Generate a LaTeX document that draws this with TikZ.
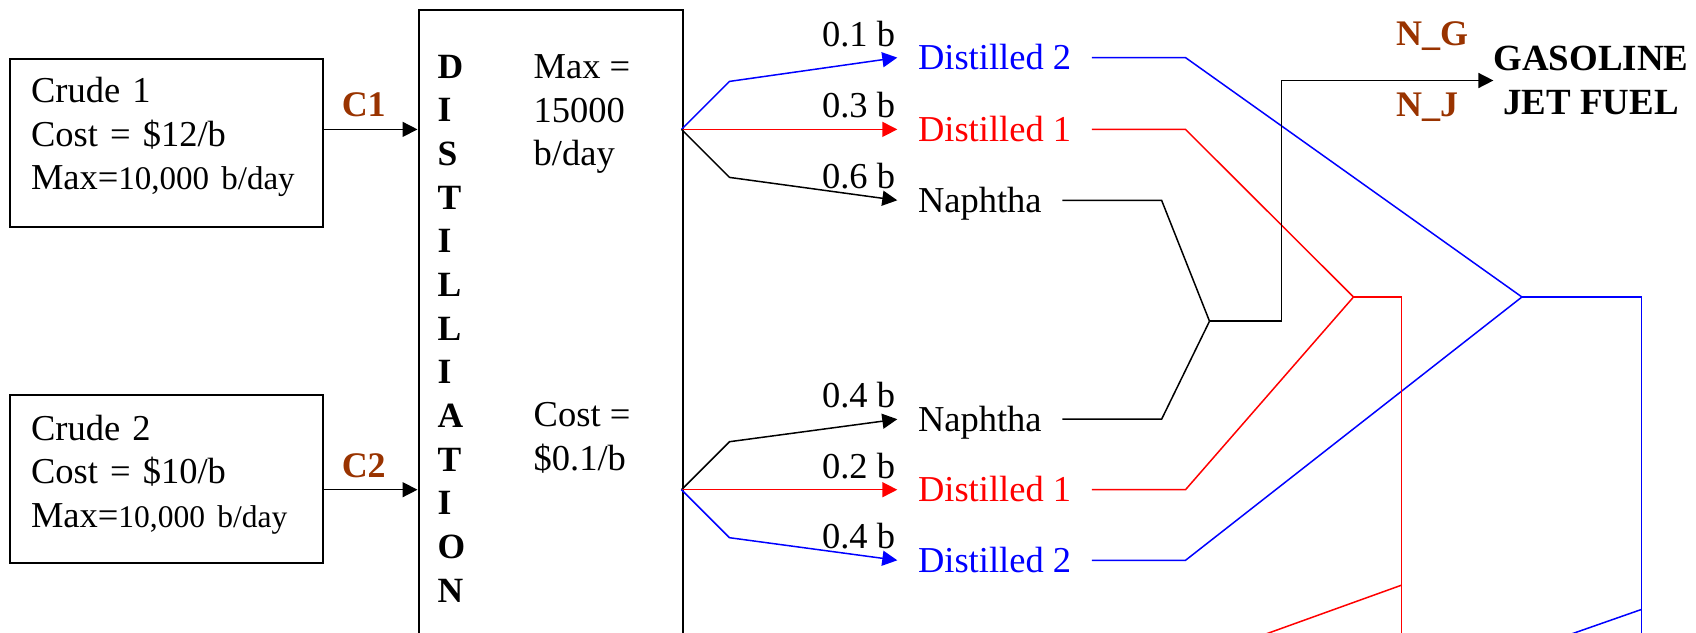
\documentclass[tikz,border=0pt]{standalone}
\usepackage{fontspec}
\setmainfont{Liberation Serif}
\usetikzlibrary{positioning, arrows.meta, calc}
\definecolor{rust}{RGB}{153,51,0}

\begin{document}
\begin{tikzpicture}[
    x=1pt, y=-1pt,
    box/.style={draw, line width=2pt, inner sep=0pt},
    crude/.style={box, anchor=north west, minimum width=313pt, minimum height=168pt, inner xsep=21pt, text width=271pt, align=left, font=\fontsize{36.5}{43.5}\selectfont},
    tower/.style={anchor=west, inner sep=0pt, font=\fontsize{35.5}{40}\selectfont\bfseries},
    note/.style={anchor=west, inner sep=0pt, align=left, font=\fontsize{36.5}{43.3}\selectfont},
    prod/.style={anchor=west, inner xsep=20.5pt, inner ysep=0pt, text height=24pt, text depth=0pt, font=\fontsize{36.5}{40}\selectfont},
    amt/.style={anchor=base east, inner sep=0pt, xshift=-1.5pt, yshift=11.5pt, text=black, font=\fontsize{36.5}{40}\selectfont},
    tag/.style={inner sep=0pt, text=rust, font=\fontsize{36}{40}\selectfont\bfseries},
    flow/.style={line width=1.5pt},
    arrow/.style={flow, -{Triangle[length=15pt, width=15pt]}},
]
\useasboundingbox (0,0) rectangle (1696,632);
\clip (0,0) rectangle (1696,632);

\node[crude] (crude_a) at (9,57.5) {Crude 1\\Cost = \$12/b\\Max={\fontsize{33}{43.5}\selectfont 10,000 b/day}\rule[-18pt]{0pt}{1pt}};
\node[crude] (crude_b) at (9,394) {Crude 2\\Cost = \$10/b\\Max={\fontsize{31.5}{43.5}\selectfont 10,000 b/day}\rule[-16pt]{0pt}{1pt}};

\node[box, anchor=north west, minimum width=264pt, minimum height=700pt] (dist_box) at (417.5,9) {};
\foreach \ch [count=\i] in {D,I,S,T,I,L,L,I,A,T,I,O,N}
    \node[tower] (tw\i) at (437.5, {66.5+43.67*(\i-1)}) {\ch};
\node[note] (cap_lbl) at (533.5,114) {Max =\\15000\\b/day};
\node[note] (cost_lbl) at (533.5,437.8) {Cost =\\\$0.1/b};

\coordinate (feed_a) at (417.5,129.4);
\coordinate (feed_b) at (417.5,489.7);
\coordinate (fork_a) at (681.5,129.4);
\coordinate (fork_b) at (681.5,489.7);

\draw[arrow] (crude_a.east |- feed_a) -- (feed_a) node[tag, midway, anchor=base, xshift=-7pt, yshift=12.5pt] {C1};
\draw[arrow] (crude_b.east |- feed_b) -- (feed_b) node[tag, midway, anchor=base, xshift=-7pt, yshift=12.5pt] {C2};

\node[prod, text=blue] (dtwo_a) at (897.3,57.6) {Distilled 2};
\node[prod, text=red] (done_a) at (897.3,129.4) {Distilled 1};
\node[prod] (naph_a) at (897.3,200.3) {Naphtha};
\node[prod] (naph_b) at (897.3,419.2) {Naphtha};
\node[prod, text=red] (done_b) at (897.3,489.7) {Distilled 1};
\node[prod, text=blue] (dtwo_b) at (897.3,560.3) {Distilled 2};

\draw[arrow, blue] (fork_a) -- ++(48,-48) -- (dtwo_a.west) node[amt, pos=1] {0.1 b};
\draw[arrow, red] (fork_a) -- (done_a.west) node[amt, pos=1] {0.3 b};
\draw[arrow] (fork_a) -- ++(48,48) -- (naph_a.west) node[amt, pos=1] {0.6 b};
\draw[arrow] (fork_b) -- ++(48,-48) -- (naph_b.west) node[amt, pos=1] {0.4 b};
\draw[arrow, red] (fork_b) -- (done_b.west) node[amt, pos=1] {0.2 b};
\draw[arrow, blue] (fork_b) -- ++(48,48) -- (dtwo_b.west) node[amt, pos=1] {0.4 b};

\coordinate (kink_d) at (1185.5,0);
\coordinate (kink_n) at (1161.6,0);
\coordinate (join_r) at (1353.5,297);
\coordinate (join_b) at (1521.9,297);
\coordinate (join_n) at (1209.5,321.2);
\coordinate (tap_r) at (1401.4,585.2);
\coordinate (tap_b) at (1641.6,609.4);

\node[inner sep=0pt, align=center, font=\fontsize{36.9}{44.4}\selectfont\bfseries] (fuels) at (1591,80.5) {GASOLINE\\JET FUEL};
\node[tag, anchor=base west] (n_g) at (1396,45.1) {N\_G};
\node[tag, anchor=base west] (n_j) at (1396,116.9) {N\_J};

\draw[flow, blue] (dtwo_a.east) -- (dtwo_a.east -| kink_d) -- (join_b);
\draw[flow, blue] (dtwo_b.east) -- (dtwo_b.east -| kink_d) -- (join_b);
\draw[flow, red] (done_a.east) -- (done_a.east -| kink_d) -- (join_r);
\draw[flow, red] (done_b.east) -- (done_b.east -| kink_d) -- (join_r);
\draw[flow] (naph_a.east) -- (naph_a.east -| kink_n) -- (join_n);
\draw[flow] (naph_b.east) -- (naph_b.east -| kink_n) -- (join_n);

\draw[arrow] (join_n) -- ++(71.8,0) |- (fuels.west);
\draw[flow, red] (join_r) -- ++(47.9,0) -- ++(0,400);
\draw[flow, blue] (join_b) -- ++(119.7,0) -- ++(0,400);
\draw[flow, red] (tap_r) -- ++(-200,72);
\draw[flow, blue] (tap_b) -- ++(-130,45.5);

\end{tikzpicture}
\end{document}
